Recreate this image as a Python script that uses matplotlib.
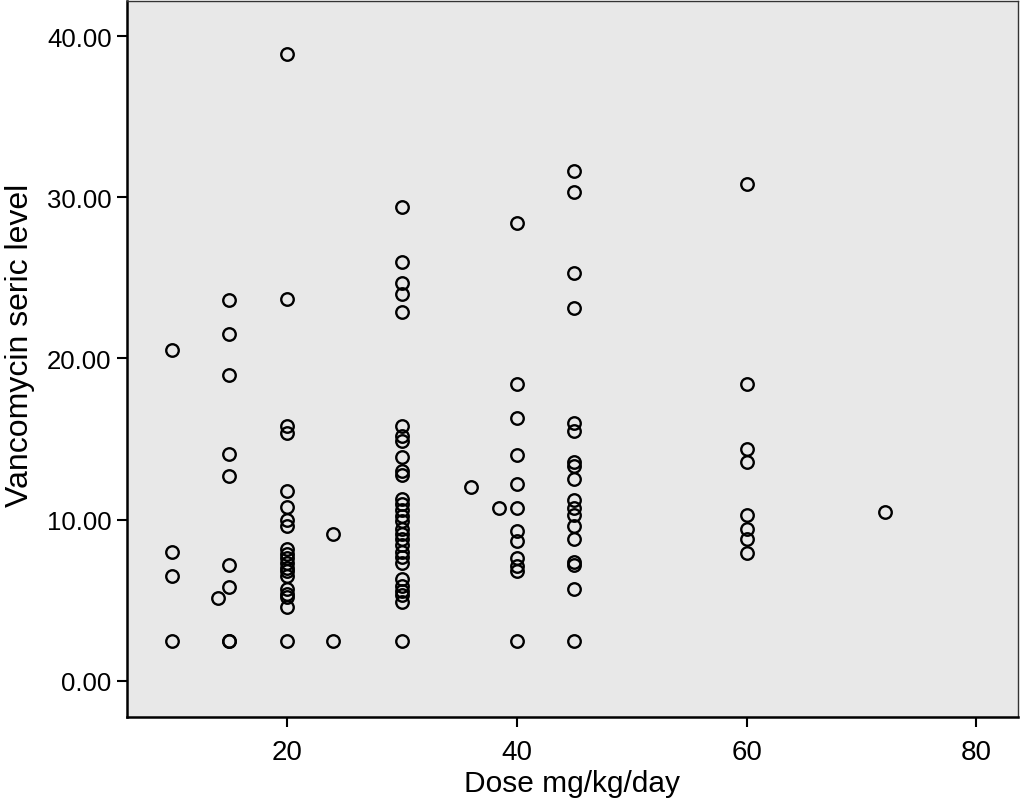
import matplotlib
matplotlib.use('Agg')
import matplotlib.pyplot as plt
import numpy as np

# dose (mg/kg/day) columns and the serum levels
dose_10 = [20.5, 8.0, 6.5, 2.5]
dose_14 = [5.15]
dose_15 = [23.6, 21.5, 19.0, 14.1, 12.7, 7.2, 5.8, 2.5, 2.5]
dose_20 = [38.9, 23.7, 15.8, 15.4, 11.8, 10.8, 10.0, 9.6, 8.2, 7.9, 7.6, 7.3,
           7.0, 6.8, 6.5, 5.7, 5.4, 5.2, 4.6, 2.5]
dose_24 = [9.1, 2.5]
dose_30 = [29.4, 26.0, 24.7, 24.0, 22.9, 15.8, 15.2, 14.9, 13.9, 13.0, 12.8,
           11.3, 11.0, 10.6, 10.2, 9.9, 9.4, 9.1, 8.8, 8.4, 8.0, 7.7, 7.3,
           6.3, 5.9, 5.6, 5.3, 4.9, 2.5]
dose_36 = [12.0]
dose_38 = [10.7]
dose_40 = [28.4, 18.4, 16.3, 14.0, 12.2, 10.7, 9.3, 8.7, 7.6, 7.1, 6.8, 2.5]
dose_45 = [31.6, 30.3, 25.3, 23.1, 16.0, 15.5, 13.6, 13.3, 12.5, 11.2, 10.7,
           10.3, 9.6, 8.8, 7.4, 7.2, 5.7, 2.5]
dose_60 = [30.8, 18.4, 14.4, 13.6, 10.3, 9.4, 8.8, 7.95]
dose_72 = [10.45]

groups = {10: dose_10, 14: dose_14, 15: dose_15, 20: dose_20, 24: dose_24,
          30: dose_30, 36: dose_36, 38.5: dose_38, 40: dose_40, 45: dose_45,
          60: dose_60, 72: dose_72}

x = []
y = []
for d, vals in groups.items():
    x += [d] * len(vals)
    y += vals

fam = ['Liberation Sans', 'DejaVu Sans']

fig = plt.figure(figsize=(10.24, 8.04), dpi=100)
ax = fig.add_axes([0.124, 0.107, 0.870, 0.891])
ax.set_facecolor('#e8e8e8')

ax.plot(x, y, linestyle='none', marker='o', markersize=9,
        markerfacecolor='none', markeredgecolor='black', markeredgewidth=1.7)

ax.set_xlim(6.09, 83.6)
ax.set_ylim(-2.24, 42.2)
ax.set_xticks([20, 40, 60, 80])
ax.set_yticks([0, 10, 20, 30, 40])
ax.set_yticklabels(['0.00', '10.00', '20.00', '30.00', '40.00'],
                   family=fam, fontsize=18.5)
ax.set_xticklabels(['20', '40', '60', '80'], family=fam, fontsize=20)
ax.tick_params(axis='both', length=7, width=1.5, direction='out', color='black')
ax.tick_params(axis='y', pad=4)
ax.tick_params(axis='x', pad=9)

for s in ['left', 'bottom']:
    ax.spines[s].set_linewidth(1.8)
for s in ['top', 'right']:
    ax.spines[s].set_linewidth(1.0)
    ax.spines[s].set_color('#333333')

ax.set_xlabel('Dose mg/kg/day', family=fam, fontsize=21.5, labelpad=3)
ax.set_ylabel('Vancomycin seric level', family=fam, fontsize=23)
ax.yaxis.set_label_coords(-0.103, 0.52)

plt.savefig('out.png', dpi=100)
